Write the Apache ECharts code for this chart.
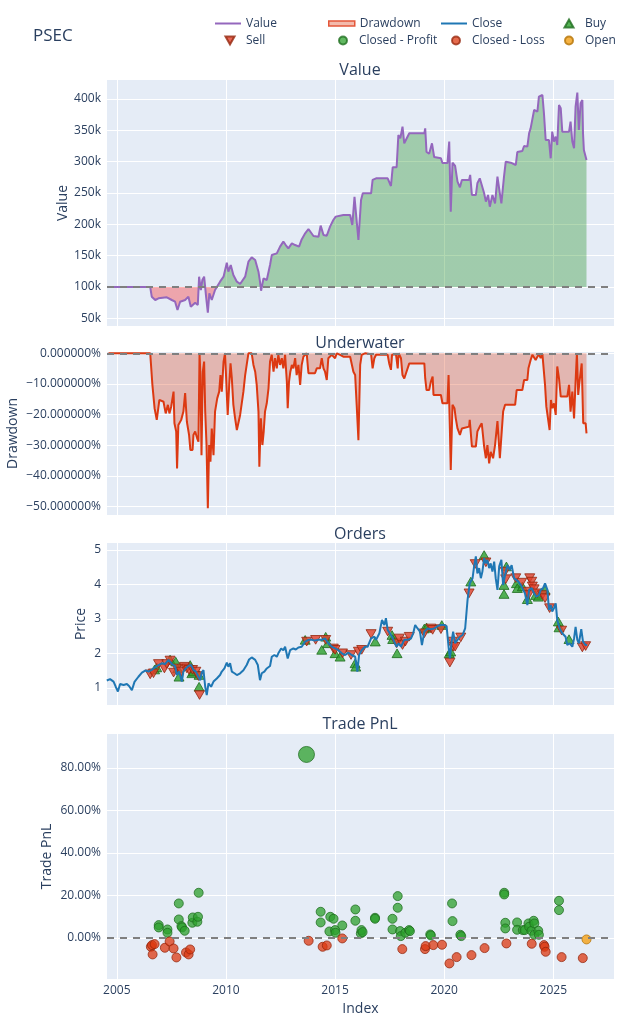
<!DOCTYPE html>
<html>
<head>
<meta charset="utf-8">
<script src="https://cdn.jsdelivr.net/npm/echarts@6/dist/echarts.min.js"></script>
<style>
html, body { margin: 0; padding: 0; background: #fff; }
#main { width: 640px; height: 1024px; }
</style>
</head>
<body>
<div id="main"></div>
<script>
// portfolio value, in thousands
var valuePoints = [
	[2004.57,100],[2006.53,100],[2006.60,84.6],[2006.76,79.3],[2006.91,81.9],[2007.29,83.5],[2007.52,79.3],[2007.67,76.6],[2007.78,63.3],[2007.90,76.6],
	[2008.13,79.3],[2008.28,84.6],[2008.39,68.6],[2008.59,75.0],[2008.71,71.3],[2008.77,116.5],[2008.85,95.2],[2008.92,111.2],[2009.00,116.5],[2009.09,84.6],
	[2009.17,59.0],[2009.24,89.9],[2009.35,79.3],[2009.50,95.2],[2009.73,108.5],[2009.89,116.5],[2010.04,138.8],[2010.11,124.5],[2010.22,135.1],[2010.34,119.2],
	[2010.50,108.5],[2010.65,104.8],[2010.88,116.5],[2011.03,140.4],[2011.18,147.3],[2011.34,143.1],[2011.49,124.5],[2011.56,108.5],[2011.61,94.1],[2011.72,113.8],
	[2011.87,111.2],[2012.02,135.1],[2012.10,151.0],[2012.33,153.7],[2012.48,164.4],[2012.63,172.4],[2012.74,167.0],[2012.86,161.7],[2013.02,169.7],[2013.17,167.0],
	[2013.35,164.4],[2013.47,176.0],[2013.63,185.7],[2013.78,192.6],[2014.01,181.4],[2014.24,180.3],[2014.34,197.9],[2014.47,183.0],[2014.62,181.9],[2014.77,196.3],
	[2014.92,206.9],[2015.03,212.3],[2015.38,215.0],[2015.69,215.0],[2015.79,199.0],[2015.89,244.0],[2016.00,201.6],[2016.07,175.0],[2016.19,238.9],[2016.27,249.5],
	[2016.65,249.5],[2016.72,270.8],[2016.88,273.4],[2017.41,273.4],[2017.56,261.2],[2017.64,291.0],[2017.82,291.0],[2017.90,342.6],[2017.99,337.3],[2018.09,355.9],
	[2018.17,329.3],[2018.25,332.0],[2018.40,345.3],[2019.09,345.3],[2019.13,353.2],[2019.19,315.4],[2019.31,312.7],[2019.44,329.3],[2019.54,307.4],[2019.85,305.4],
	[2019.92,297.8],[2020.15,297.8],[2020.23,332.0],[2020.30,220.2],[2020.38,298.4],[2020.50,293.1],[2020.61,268.1],[2020.72,259.1],[2020.81,270.8],[2021.14,270.8],
	[2021.19,278.8],[2021.27,246.8],[2021.45,246.8],[2021.52,265.5],[2021.63,273.4],[2021.72,270.8],[2021.83,249.5],[2021.91,236.2],[2022.01,246.8],[2022.09,228.2],
	[2022.21,246.8],[2022.33,233.5],[2022.44,276.1],[2022.55,249.5],[2022.62,233.5],[2022.74,276.1],[2022.82,300.0],[2023.05,298.4],[2023.28,294.7],[2023.35,315.4],
	[2023.58,317.0],[2023.66,325.0],[2023.81,324.0],[2023.89,345.3],[2023.96,353.2],[2024.04,355.9],[2024.12,382.5],[2024.27,379.8],[2024.34,403.8],[2024.50,406.4],
	[2024.57,377.2],[2024.65,334.6],[2024.80,334.6],[2024.88,305.4],[2024.95,347.9],[2025.03,332.0],[2025.11,340.0],[2025.18,326.6],[2025.26,390.5],[2025.34,385.2],
	[2025.41,347.9],[2025.72,347.9],[2025.79,363.9],[2025.87,332.0],[2025.95,321.3],[2026.02,387.8],[2026.10,410.2],[2026.17,350.6],[2026.25,393.1],[2026.33,398.5],
	[2026.36,345.3],[2026.40,318.7],[2026.48,318.7],[2026.52,302.7]
];

// underwater, percent
var drawdownPoints = [
	[2004.62,0],[2006.53,0],[2006.57,-0.5],[2006.63,-10.3],[2006.73,-17.9],[2006.83,-21.7],[2006.91,-21.7],[2006.95,-15.2],[2007.14,-15.8],[2007.18,-17.4],
	[2007.24,-19.6],[2007.34,-16.8],[2007.41,-19.6],[2007.49,-17.4],[2007.60,-12.5],[2007.64,-22.8],[2007.72,-25.5],[2007.76,-37.5],[2007.82,-23.4],[2007.95,-21.7],
	[2008.05,-19.0],[2008.13,-13.0],[2008.21,-22.3],[2008.31,-26.6],[2008.37,-31.5],[2008.47,-31.5],[2008.51,-26.6],[2008.59,-25.5],[2008.68,-27.7],[2008.74,-28.8],
	[2008.79,0],[2008.83,-7.1],[2008.88,-33.2],[2008.94,-6.0],[2009.00,-2.7],[2009.05,-19.0],[2009.11,-29.9],[2009.17,-50.5],[2009.23,-29.9],[2009.29,-35.3],
	[2009.35,-24.5],[2009.43,-33.2],[2009.50,-19.0],[2009.60,-14.7],[2009.69,-12.5],[2009.75,-7.1],[2009.81,-12.5],[2009.89,-2.7],[2009.96,0],[2010.02,0],
	[2010.08,-20.1],[2010.15,-10.3],[2010.21,-3.3],[2010.27,-8.2],[2010.34,-16.8],[2010.42,-21.2],[2010.50,-25.0],[2010.57,-25.5],[2010.65,-20.1],[2010.73,-19.6],
	[2010.80,-12.5],[2010.88,-7.1],[2010.95,-3.8],[2011.03,0],[2011.18,0],[2011.26,-3.8],[2011.34,-6.0],[2011.41,-10.3],[2011.49,-19.0],[2011.53,-37.0],
	[2011.60,-21.2],[2011.67,-29.9],[2011.73,-25.5],[2011.79,-19.0],[2011.87,-16.3],[2011.95,-11.4],[2012.02,-2.7],[2012.10,-0.5],[2012.18,-6.0],[2012.25,-1.6],
	[2012.33,-4.9],[2012.40,-0.5],[2012.48,-3.8],[2012.56,-1.6],[2012.63,-4.9],[2012.71,-0.5],[2012.79,-9.2],[2012.83,-17.9],[2012.89,-9.2],[2012.95,-6.0],
	[2013.02,-3.8],[2013.09,-4.9],[2013.17,-1.6],[2013.24,-7.1],[2013.32,-3.8],[2013.40,-10.3],[2013.47,-3.8],[2013.55,-1.1],[2013.63,-0.5],[2013.70,0],
	[2013.78,-6.5],[2014.08,-6.5],[2014.16,-4.9],[2014.31,-4.9],[2014.39,-1.6],[2014.47,-4.9],[2014.54,-6.0],[2014.62,-8.7],[2014.69,-1.6],[2014.85,-0.5],
	[2015.00,-1.6],[2015.08,0],[2015.23,-0.5],[2015.38,-1.1],[2015.69,-1.1],[2015.76,-1.6],[2015.84,-6.0],[2015.92,-7.1],[2015.99,-16.8],[2016.07,-28.3],
	[2016.15,-3.8],[2016.22,-0.5],[2016.37,0],[2016.65,-0.3],[2016.72,-4.9],[2016.80,-1.6],[2016.88,-0.5],[2017.41,-0.5],[2017.48,-3.3],[2017.56,-5.4],
	[2017.61,-0.5],[2017.79,-0.3],[2017.87,-4.9],[2017.91,0],[2018.02,-1.6],[2018.09,-7.1],[2018.17,-8.2],[2018.25,-6.5],[2018.32,-7.1],[2018.40,-3.3],
	[2019.09,-3.3],[2019.13,-8.2],[2019.19,-12.0],[2019.31,-12.0],[2019.39,-9.2],[2019.47,-7.6],[2019.51,-13.6],[2019.85,-13.6],[2019.92,-16.3],[2020.15,-16.3],
	[2020.20,-7.1],[2020.26,-24.5],[2020.30,-38.0],[2020.38,-16.8],[2020.47,-17.9],[2020.53,-21.2],[2020.61,-24.5],[2020.72,-26.6],[2020.81,-24.5],[2021.14,-23.9],
	[2021.17,-21.7],[2021.27,-30.4],[2021.45,-30.4],[2021.52,-25.5],[2021.63,-23.9],[2021.72,-22.8],[2021.83,-30.4],[2021.91,-34.2],[2021.98,-29.9],[2022.06,-35.9],
	[2022.13,-32.1],[2022.24,-34.2],[2022.33,-29.9],[2022.44,-22.1],[2022.55,-34.2],[2022.62,-34.2],[2022.70,-19.0],[2022.79,-16.8],[2022.90,-16.8],[2023.25,-16.8],
	[2023.32,-12.0],[2023.58,-12.0],[2023.66,-8.7],[2023.81,-8.7],[2023.86,-4.9],[2023.96,-2.2],[2024.04,-0.5],[2024.19,-2.2],[2024.27,-1.1],[2024.34,-0.3],
	[2024.42,-1.6],[2024.50,-0.3],[2024.57,-0.5],[2024.62,-10.3],[2024.68,-17.4],[2024.77,-17.4],[2024.83,-25.0],[2024.89,-15.2],[2024.95,-17.9],[2025.03,-16.3],
	[2025.11,-20.1],[2025.18,-4.3],[2025.26,-8.2],[2025.34,-14.1],[2025.64,-14.1],[2025.72,-10.3],[2025.79,-19.0],[2025.87,-12.5],[2025.95,-21.2],[2026.02,-9.2],
	[2026.08,0],[2026.14,-13.6],[2026.20,-9.2],[2026.30,-3.3],[2026.37,-22.8],[2026.48,-22.8],[2026.52,-26.1]
];

// close price
var closePoints = [
	[2004.54,1.21],[2004.69,1.25],[2004.85,1.18],[2004.95,1.03],[2005.05,0.89],[2005.15,1.11],[2005.31,1.08],[2005.46,1.11],[2005.56,1.05],[2005.69,0.93],
	[2005.81,1.17],[2005.99,1.32],[2006.15,1.44],[2006.30,1.50],[2006.45,1.47],[2006.60,1.52],[2006.76,1.60],[2006.91,1.66],[2007.06,1.71],[2007.21,1.69],
	[2007.37,1.81],[2007.52,1.69],[2007.67,1.63],[2007.75,1.37],[2007.85,1.47],[2007.98,1.18],[2008.05,1.47],[2008.16,1.56],[2008.28,1.63],[2008.40,1.66],
	[2008.51,1.52],[2008.62,1.47],[2008.74,1.32],[2008.82,1.22],[2008.89,1.44],[2008.97,1.51],[2009.05,1.03],[2009.12,0.79],[2009.20,1.13],[2009.32,1.03],
	[2009.43,1.18],[2009.58,1.27],[2009.73,1.37],[2009.81,1.47],[2009.93,1.56],[2010.04,1.73],[2010.11,1.61],[2010.19,1.71],[2010.27,1.47],[2010.39,1.42],
	[2010.50,1.37],[2010.65,1.42],[2010.80,1.51],[2010.95,1.66],[2011.06,1.82],[2011.18,1.88],[2011.34,1.81],[2011.46,1.66],[2011.56,1.22],[2011.64,1.42],
	[2011.76,1.47],[2011.87,1.56],[2012.02,1.63],[2012.10,1.90],[2012.22,1.95],[2012.33,1.90],[2012.40,2.00],[2012.53,2.14],[2012.63,2.09],[2012.71,2.19],
	[2012.83,1.85],[2012.94,2.09],[2013.09,2.14],[2013.20,2.11],[2013.32,2.17],[2013.47,2.19],[2013.63,2.34],[2013.78,2.39],[2013.93,2.39],[2014.08,2.37],
	[2014.24,2.39],[2014.39,2.39],[2014.54,2.43],[2014.69,2.29],[2014.85,2.19],[2015.00,2.14],[2015.15,2.09],[2015.31,2.00],[2015.46,1.95],[2015.61,2.02],
	[2015.76,1.95],[2015.92,1.90],[2016.02,1.47],[2016.10,1.95],[2016.22,2.09],[2016.37,2.19],[2016.49,2.19],[2016.65,2.43],[2016.80,2.48],[2016.88,2.39],
	[2017.03,2.58],[2017.15,2.97],[2017.26,2.82],[2017.33,3.02],[2017.41,2.68],[2017.48,2.63],[2017.61,2.48],[2017.71,2.34],[2017.82,2.19],[2017.91,2.29],
	[2018.02,2.19],[2018.17,2.39],[2018.32,2.39],[2018.48,2.43],[2018.58,2.58],[2018.67,2.82],[2018.78,2.72],[2018.89,2.63],[2018.98,2.24],[2019.09,2.63],
	[2019.24,2.72],[2019.39,2.70],[2019.54,2.72],[2019.70,2.79],[2019.85,2.82],[2020.00,2.82],[2020.11,2.79],[2020.20,2.19],[2020.26,1.85],[2020.35,2.39],
	[2020.41,2.63],[2020.50,2.29],[2020.61,2.39],[2020.72,2.48],[2020.84,2.53],[2020.96,2.72],[2021.07,3.55],[2021.17,4.03],[2021.30,4.18],[2021.37,4.52],
	[2021.45,4.81],[2021.52,4.32],[2021.60,4.47],[2021.68,4.18],[2021.75,4.37],[2021.83,4.76],[2021.91,4.61],[2021.98,4.71],[2022.06,4.47],[2022.13,4.61],
	[2022.21,4.37],[2022.29,4.66],[2022.36,4.18],[2022.44,3.84],[2022.52,4.52],[2022.62,4.71],[2022.70,3.98],[2022.79,4.27],[2022.90,4.56],[2023.00,4.42],
	[2023.09,4.56],[2023.20,4.18],[2023.28,4.23],[2023.40,4.08],[2023.51,3.98],[2023.58,3.89],[2023.70,3.74],[2023.81,3.40],[2023.89,3.84],[2024.01,3.89],
	[2024.12,3.74],[2024.22,3.64],[2024.34,3.69],[2024.42,3.84],[2024.53,3.89],[2024.62,4.03],[2024.73,3.84],[2024.80,3.26],[2024.88,3.40],[2024.95,3.21],
	[2025.03,3.31],[2025.11,3.45],[2025.18,2.97],[2025.29,2.72],[2025.41,2.58],[2025.56,2.48],[2025.64,2.24],[2025.75,2.29],[2025.87,2.19],[2025.95,2.43],
	[2026.02,2.77],[2026.10,2.39],[2026.17,2.29],[2026.28,2.70],[2026.36,2.34],[2026.48,2.24],[2026.55,2.24]
];

var buyOrders = [
	[2006.73,1.53],[2006.83,1.59],[2007.44,1.82],[2007.70,1.76],[2007.79,1.56],[2007.85,1.32],[2008.36,1.66],[2008.44,1.42],[2008.51,1.47],[2008.77,1.37],
	[2008.77,1.03],[2013.63,2.39],[2014.39,2.10],[2014.57,2.48],[2014.66,2.29],[2015.00,2.00],[2015.23,1.90],[2015.92,1.71],[2015.95,1.61],[2016.84,2.34],
	[2017.61,2.53],[2017.64,2.41],[2017.84,2.00],[2019.09,2.72],[2019.19,2.75],[2019.89,2.82],[2020.23,2.00],[2020.30,2.05],[2021.22,4.08],[2021.83,4.85],
	[2022.74,3.98],[2022.74,3.72],[2022.85,4.52],[2023.31,4.03],[2023.35,3.89],[2023.58,3.94],[2023.81,3.57],[2024.19,3.69],[2024.31,3.64],[2024.62,3.84],
	[2025.23,2.92],[2025.26,2.75],[2025.72,2.41]
];

var sellOrders = [
	[2006.53,1.39],[2006.68,1.42],[2006.91,1.69],[2007.18,1.56],[2007.29,1.69],[2007.44,1.79],[2007.60,1.44],[2007.75,1.56],[2007.95,1.47],[2008.10,1.61],
	[2008.21,1.56],[2008.31,1.52],[2008.47,1.52],[2008.62,1.47],[2008.74,1.34],[2008.79,0.79],[2013.70,2.34],[2014.11,2.39],[2014.57,2.39],[2014.92,2.14],
	[2015.00,2.10],[2015.34,2.00],[2015.73,1.95],[2016.07,2.05],[2016.22,2.10],[2016.65,2.56],[2017.41,2.63],[2017.82,2.29],[2017.94,2.43],[2018.09,2.24],
	[2018.22,2.34],[2018.40,2.48],[2019.09,2.58],[2019.39,2.72],[2019.47,2.68],[2019.85,2.70],[2020.26,1.73],[2020.38,2.34],[2020.41,2.19],[2020.50,2.19],
	[2020.76,2.46],[2021.14,3.74],[2021.42,4.59],[2021.91,4.64],[2022.79,4.37],[2022.82,4.15],[2023.28,4.18],[2023.55,4.05],[2023.81,3.79],[2023.86,3.69],
	[2023.92,4.18],[2024.01,4.08],[2024.04,3.94],[2024.12,3.86],[2024.27,3.74],[2024.50,3.69],[2024.62,3.60],[2024.83,3.31],[2025.38,2.66],[2026.33,2.17],
	[2026.48,2.21]
];

// trade returns, percent
var profitTrades = [
	[2006.92,5.96],[2006.92,4.86],[2007.32,3.92],[2007.32,2.35],[2007.84,16.16],[2007.84,8.63],[2007.96,5.49],[2007.99,4.86],[2008.11,3.29],[2008.46,7.06],
	[2008.48,9.57],[2008.69,7.53],[2008.72,9.88],[2008.75,21.18],[2013.69,86.27],[2014.34,12.24],[2014.34,7.22],[2014.74,2.98],[2014.78,9.88],[2014.93,8.94],
	[2015.00,3.61],[2015.02,2.35],[2015.33,5.80],[2015.93,13.33],[2015.93,8.00],[2016.18,2.04],[2016.21,3.61],[2016.26,2.67],[2016.83,9.41],[2016.83,8.94],
	[2017.63,8.94],[2017.63,3.92],[2017.87,19.61],[2017.87,14.12],[2017.98,3.14],[2018.01,0.78],[2018.22,2.35],[2018.39,3.61],[2018.43,3.14],[2019.36,1.57],
	[2019.39,1.10],[2020.36,16.16],[2020.38,7.84],[2020.74,1.41],[2020.78,0.78],[2022.75,21.18],[2022.75,20.39],[2022.80,7.06],[2022.80,4.39],[2023.34,7.22],
	[2023.34,3.76],[2023.60,3.61],[2023.69,3.61],[2023.86,6.75],[2023.89,5.18],[2024.00,3.29],[2024.10,8.00],[2024.13,6.75],[2024.13,1.41],[2024.31,3.29],
	[2024.34,1.41],[2025.26,17.41],[2025.26,13.02]
];

var lossTrades = [
	[2006.56,-4.24],[2006.61,-3.45],[2006.64,-7.84],[2006.73,-2.98],[2007.20,-4.71],[2007.42,-1.73],[2007.60,-5.02],[2007.73,-9.25],[2008.17,-6.90],[2008.29,-7.84],
	[2008.36,-5.49],[2013.79,-1.41],[2014.43,-4.24],[2014.62,-3.61],[2015.33,-0.31],[2018.08,-5.33],[2019.12,-5.33],[2019.15,-3.92],[2019.50,-3.45],[2019.90,-3.29],
	[2020.24,-12.08],[2020.57,-9.10],[2021.25,-8.16],[2021.85,-4.86],[2022.85,-2.67],[2024.01,-2.82],[2024.57,-3.45],[2024.60,-4.24],[2024.65,-6.59],[2025.38,-9.10],
	[2026.35,-9.57]
];

var openTrades = [
	[2026.52,-0.78]
];

var yearTicks = [2005, 2010, 2015, 2020, 2025];
var valueTicks = [50, 100, 150, 200, 250, 300, 350, 400];
var drawdownTicks = [0, -10, -20, -30, -40, -50];
var priceTicks = [1, 2, 3, 4, 5];
var pnlTicks = [0, 20, 40, 60, 80];

var FONT = 'Open Sans';
var INK = '#2a3f5f';
var X_MIN = 2004.55, X_MAX = 2027.78;
var UP_TRIANGLE = 'path://M5,0L10,8.66L0,8.66Z';
var DOWN_TRIANGLE = 'path://M0,0L10,0L5,8.66Z';

function dashedAt(v) {
	return {
		silent: true,
		symbol: 'none',
		label: { show: false },
		emphasis: { disabled: true },
		lineStyle: { color: '#7f7f7f', type: [7, 6], width: 2 },
		data: [{ yAxis: v }]
	};
}

function xAxis(i, last) {
	return {
		type: 'value', gridIndex: i, min: X_MIN, max: X_MAX,
		axisLine: { show: false },
		axisTick: { show: false, customValues: yearTicks },
		axisLabel: {
			show: last, customValues: yearTicks, color: INK, fontFamily: FONT, fontSize: 12, margin: 6,
			formatter: function(v) { return String(v); }
		},
		splitLine: { show: true, lineStyle: { color: '#fff', width: 1 } },
		name: last ? 'Index' : '', nameLocation: 'middle', nameGap: 23, nameMoveOverlap: false,
		nameTextStyle: { color: INK, fontFamily: FONT, fontSize: 14 }
	};
}

function yAxis(i, min, max, ticks, fmt, name, gap) {
	return {
		type: 'value', gridIndex: i, min: min, max: max,
		axisLine: { show: false },
		axisTick: { show: false, customValues: ticks },
		axisLabel: { customValues: ticks, formatter: fmt, color: INK, fontFamily: FONT, fontSize: 12, margin: 6 },
		splitLine: { show: true, lineStyle: { color: '#fff', width: 1 } },
		name: name, nameLocation: 'middle', nameGap: gap, nameMoveOverlap: false,
		nameTextStyle: { color: INK, fontFamily: FONT, fontSize: 14 }
	};
}

var legendText = { color: INK, fontFamily: FONT, fontSize: 12 };

// line entries: 26px swatch ending just before the text
function lineLegend(item, textX, rowY, h) {
	return {
		data: [item], left: textX - 31, top: rowY - 4.5,
		itemWidth: 26, itemHeight: h, itemGap: 0,
		selectedMode: false, padding: 0, textStyle: legendText
	};
}

// marker entries: small square icon centred 17px left of the text
function markerLegend(item, textX, rowY, h) {
	return {
		data: [item], left: textX - 17 - h / 2, top: rowY - 4.5,
		itemWidth: h, itemHeight: h, itemGap: 0,
		selectedMode: false, padding: 0,
		formatter: '{t|{name}}',
		textStyle: { rich: { t: { color: INK, fontFamily: FONT, fontSize: 12, padding: [0, 0, 0, 12 - h / 2 - 1] } } }
	};
}

function subTitle(text, y) {
	return {
		type: 'text', x: 360, y: y, silent: true,
		style: { text: text, align: 'center', verticalAlign: 'middle', font: '16px "Open Sans"', fill: INK }
	};
}

var grid = { left: 107, right: 26, show: true, backgroundColor: '#e5ecf6', borderWidth: 0, outerBoundsMode: 'none', containLabel: false };

var myChart = echarts.init(document.getElementById('main'));
myChart.setOption({
	animation: false,
	backgroundColor: '#fff',
	graphic: [
		{ type: 'text', x: 33, y: 36, silent: true, style: { text: 'PSEC', align: 'left', verticalAlign: 'middle', font: '17px "Open Sans"', fill: INK } },
		subTitle('Value', 70),
		subTitle('Underwater', 343),
		subTitle('Orders', 534),
		subTitle('Trade PnL', 724)
	],
	legend: [
		lineLegend({ name: 'Value', icon: 'rect', itemStyle: { color: '#9467bd' } }, 246, 22, 2),
		lineLegend({ name: 'Drawdown', icon: 'rect', itemStyle: { color: 'rgba(220,57,18,0.35)', borderColor: '#e4573a', borderWidth: 1.5 } }, 359, 22, 5),
		lineLegend({ name: 'Close', icon: 'rect', itemStyle: { color: '#1f77b4' } }, 472, 22, 2),
		markerLegend('Buy', 585, 22, 9),
		markerLegend('Sell', 246, 39, 9),
		markerLegend('Closed - Profit', 359, 39, 8),
		markerLegend('Closed - Loss', 472, 39, 8),
		markerLegend('Open', 585, 39, 8)
	],
	visualMap: {
		type: 'piecewise', show: false, seriesIndex: 0, dimension: 1,
		pieces: [
			{ min: 0, max: 100, color: 'rgba(255,0,0,0.3)' },
			{ min: 100, max: 10000, color: 'rgba(0,128,0,0.3)' }
		]
	},
	grid: [
		Object.assign({ top: 80, height: 246 }, grid),
		Object.assign({ top: 352, height: 163 }, grid),
		Object.assign({ top: 543, height: 162 }, grid),
		Object.assign({ top: 734, height: 245 }, grid)
	],
	xAxis: [xAxis(0, false), xAxis(1, false), xAxis(2, false), xAxis(3, true)],
	yAxis: [
		yAxis(0, 37.8, 430.3, valueTicks, function(v) { return v + 'k'; }, 'Value', 37),
		yAxis(1, -52.7, 0.42, drawdownTicks, function(v) {
			return (v < 0 ? '\u2212' : '') + Math.abs(v).toFixed(6) + '%';
		}, 'Drawdown', 87),
		yAxis(2, 0.5, 5.2, priceTicks, function(v) { return String(v); }, 'Price', 19),
		yAxis(3, -19.4, 95.9, pnlTicks, function(v) { return v.toFixed(2) + '%'; }, 'Trade PnL', 53)
	],
	series: [
		{
			name: 'ValueFill', type: 'line', xAxisIndex: 0, yAxisIndex: 0, data: valuePoints,
			symbol: 'none', silent: true,
			lineStyle: { width: 0, opacity: 0 },
			areaStyle: { origin: 100, opacity: 1 }
		},
		{
			name: 'Value', type: 'line', xAxisIndex: 0, yAxisIndex: 0, data: valuePoints,
			symbol: 'none', lineStyle: { color: '#9467bd', width: 2 }, itemStyle: { color: '#9467bd' },
			markLine: dashedAt(100)
		},
		{
			name: 'Drawdown', type: 'line', xAxisIndex: 1, yAxisIndex: 1, data: drawdownPoints,
			symbol: 'none', lineStyle: { color: '#dc3912', width: 2 }, itemStyle: { color: '#dc3912' },
			areaStyle: { color: 'rgba(220,57,18,0.3)', opacity: 1 },
			markLine: dashedAt(0)
		},
		{
			name: 'Close', type: 'line', xAxisIndex: 2, yAxisIndex: 2, data: closePoints,
			symbol: 'none', lineStyle: { color: '#1f77b4', width: 2 }, itemStyle: { color: '#1f77b4' }
		},
		{
			name: 'Buy', type: 'scatter', xAxisIndex: 2, yAxisIndex: 2, data: buyOrders,
			symbol: UP_TRIANGLE, symbolSize: 10, symbolKeepAspect: true,
			itemStyle: { color: '#2ca02c', borderColor: '#1d6b1d', borderWidth: 1 }
		},
		{
			name: 'Sell', type: 'scatter', xAxisIndex: 2, yAxisIndex: 2, data: sellOrders,
			symbol: DOWN_TRIANGLE, symbolSize: 10, symbolKeepAspect: true,
			itemStyle: { color: '#e0402a', borderColor: '#93260c', borderWidth: 1 }
		},
		{
			name: 'Closed - Profit', type: 'scatter', xAxisIndex: 3, yAxisIndex: 3, data: profitTrades,
			symbolSize: function(d) { return d[1] > 50 ? 16 : 9; },
			itemStyle: { color: '#2ca02c', opacity: 0.75, borderColor: '#1d6b1d', borderWidth: 1 },
			markLine: dashedAt(0)
		},
		{
			name: 'Closed - Loss', type: 'scatter', xAxisIndex: 3, yAxisIndex: 3, data: lossTrades,
			symbolSize: 9,
			itemStyle: { color: '#dc3912', opacity: 0.75, borderColor: '#93260c', borderWidth: 1 }
		},
		{
			name: 'Open', type: 'scatter', xAxisIndex: 3, yAxisIndex: 3, data: openTrades,
			symbolSize: 9,
			itemStyle: { color: '#f5a623', opacity: 0.85, borderColor: '#b87a10', borderWidth: 1 }
		}
	]
});
</script>
</body>
</html>
